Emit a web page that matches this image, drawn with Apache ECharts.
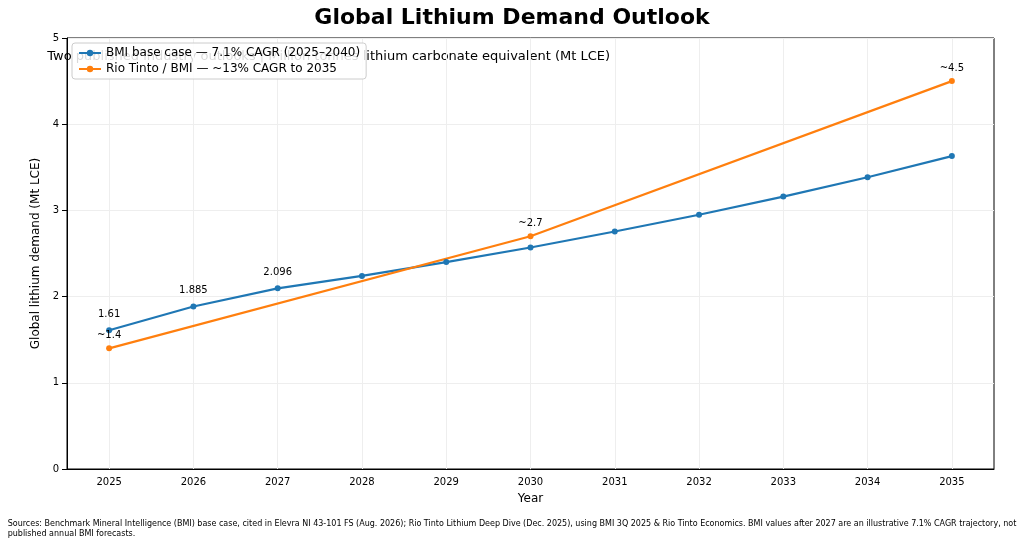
<!DOCTYPE html>
<html>
<head>
<meta charset="utf-8">
<script src="https://cdn.jsdelivr.net/npm/echarts@6/dist/echarts.min.js"></script>
<style>html,body{margin:0;padding:0;background:#fff}#c{width:1024px;height:545px}</style>
</head>
<body>
<div id="c"></div>
<script>
var years = ['2025','2026','2027','2028','2029','2030','2031','2032','2033','2034','2035'];
var bmi = [1.61, 1.885, 2.096, 2.24, 2.40, 2.57, 2.755, 2.95, 3.16, 3.385, 3.63];
var rio = [1.4, null, null, null, null, 2.7, null, null, null, null, 4.5];
var bmiLabels = ['1.61', '1.885', '2.096'];
var rioLabels = {0: '~1.4', 5: '~2.7', 10: '~4.5'};

var font = 'DejaVu Sans';
var chart = echarts.init(document.getElementById('c'));
chart.setOption({
	animation: false,
	textStyle: { fontFamily: font },
	title: {
		text: 'Global Lithium Demand Outlook', left: 'center', top: 2,
		textStyle: { fontSize: 22, fontWeight: 'bold', color: '#000', fontFamily: font }
	},
	graphic: [
		{ type: 'text', left: 'center', top: 519, z: 10,
		  style: { text: 'Sources: Benchmark Mineral Intelligence (BMI) base case, cited in Elevra NI 43-101 FS (Aug. 2026); Rio Tinto Lithium Deep Dive (Dec. 2025), using BMI 3Q 2025 & Rio Tinto Economics. BMI values after 2027 are an illustrative 7.1% CAGR trajectory, not\npublished annual BMI forecasts.',
			align: 'center', fontSize: 8, lineHeight: 10, fill: '#000', fontFamily: font } },
		{ type: 'text', right: 414, top: 50, z: 0,
		  style: { text: 'Two published industry outlooks | Million tonnes lithium carbonate equivalent (Mt LCE)',
			fontSize: 13, fill: '#000', fontFamily: font } }
	],
	legend: {
		left: 72, top: 43, orient: 'vertical', itemGap: 4, z: 20,
		backgroundColor: 'rgba(255,255,255,0.85)', borderColor: '#ccc', borderWidth: 1, borderRadius: 3, padding: [4, 6],
		itemWidth: 22, itemHeight: 8,
		textStyle: { fontSize: 12, color: '#000', fontFamily: font },
		data: ['BMI base case — 7.1% CAGR (2025–2040)', 'Rio Tinto / BMI — ~13% CAGR to 2035']
	},
	grid: { left: 67, right: 30, top: 38, bottom: 76, show: true, borderColor: '#000', borderWidth: 1 },
	xAxis: {
		type: 'category', data: years, boundaryGap: true,
		name: 'Year', nameLocation: 'middle', nameGap: 24,
		nameTextStyle: { fontSize: 12, color: '#000' },
		axisLine: { lineStyle: { color: '#000' } },
		axisTick: { alignWithLabel: true, lineStyle: { color: '#000' } },
		axisLabel: { fontSize: 10, color: '#000' },
		splitLine: { show: false }
	},
	yAxis: {
		type: 'value', min: 0, max: 5, interval: 1,
		name: 'Global lithium demand (Mt LCE)', nameLocation: 'middle', nameGap: 24,
		nameTextStyle: { fontSize: 12, color: '#000' },
		axisLine: { show: true, lineStyle: { color: '#000' } },
		axisTick: { show: true, lineStyle: { color: '#000' } },
		axisLabel: { fontSize: 10, color: '#000' },
		splitLine: { lineStyle: { color: '#eee' } }
	},
	series: [
		{
			name: 'BMI base case — 7.1% CAGR (2025–2040)', type: 'line', data: bmi,
			color: '#1f77b4', symbol: 'circle', symbolSize: 6, lineStyle: { width: 2.2 },
			label: { show: true, position: 'top', distance: 8, fontSize: 10, color: '#000',
				formatter: function (p) { return bmiLabels[p.dataIndex] || ''; } },
			markLine: { silent: true, symbol: 'none', label: { show: false },
				lineStyle: { color: '#eee', type: 'solid', width: 1 }, z: 0,
				data: years.map(function (y) { return { xAxis: y }; }) }
		},
		{
			name: 'Rio Tinto / BMI — ~13% CAGR to 2035', type: 'line', data: rio, connectNulls: true,
			color: '#ff7f0e', symbol: 'circle', symbolSize: 6, lineStyle: { width: 2.2 },
			label: { show: true, position: 'top', distance: 5, fontSize: 10, color: '#000',
				formatter: function (p) { return rioLabels[p.dataIndex] || ''; } }
		}
	]
});
</script>
</body>
</html>
